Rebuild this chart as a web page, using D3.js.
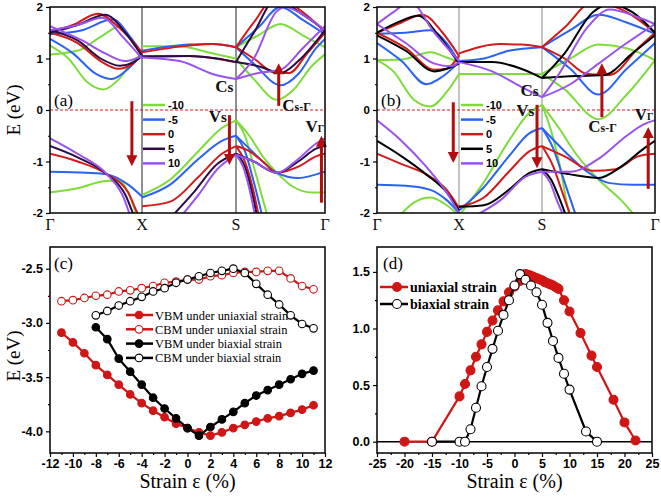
<!DOCTYPE html>
<html><head><meta charset="utf-8">
<script src="https://cdn.jsdelivr.net/npm/d3@7"></script>
<style>body{margin:0;background:#fff}svg{display:block}</style>
</head><body><svg id="c" width="661" height="497"></svg>
<script>
// ---------------- DATA ----------------
const strains = [-10, -5, 0, 5, 10];
const kLabels = ["Γ", "X", "S", "Γ"];
const kPos = [0, 1, 2, 3];
const bandTicks = [-2, -1, 0, 1, 2];

// Panel (a): uniaxial strain bands, [k, E]
const aM10 = [
  [[0,1.25],[0.2,1.0],[0.4,0.55],[0.58,0.4],[0.75,0.6],[0.9,0.95],[1,1.08]],
  [[0,1.08],[0.3,1.15],[0.55,1.42],[0.76,1.62],[0.9,1.3],[1,1.08]],
  [[1,1.24],[1.4,1.24],[1.7,1.12],[2,1.0]],
  [[2,1.0],[2.2,0.6],[2.46,0.2],[2.65,0.4],[2.85,0.85],[3,1.08]],
  [[2,1.22],[2.25,1.45],[2.5,1.67],[2.75,1.45],[3,1.22]],
  [[0,-1.6],[0.3,-1.52],[0.6,-1.38],[0.75,-1.37],[0.85,-1.6],[0.95,-2.1]],
  [[1,-1.65],[1.3,-1.35],[1.6,-0.8],[1.85,-0.35],[2,-0.2]],
  [[2,-0.2],[2.15,-0.5],[2.3,-0.9],[2.46,-1.22],[2.65,-1.5],[2.85,-1.6],[3,-1.6]],
  [[2,-0.2],[2.1,-0.5],[2.2,-1.1],[2.28,-1.6],[2.36,-2.1]]
];
const aM5 = [
  [[0,1.38],[0.25,1.1],[0.5,0.7],[0.67,0.6],[0.85,0.8],[1,1.08]],
  [[0,1.47],[0.35,1.55],[0.68,1.76],[0.88,1.4],[1,1.1]],
  [[1,1.15],[1.5,1.27],[1.75,1.28],[2,1.22]],
  [[2,1.22],[2.2,0.9],[2.5,0.48],[2.7,0.7],[2.9,1.2],[3,1.38]],
  [[2,1.22],[2.25,1.6],[2.5,2.0],[2.75,1.75],[3,1.47]],
  [[0,-1.2],[0.4,-1.22],[0.62,-1.25],[0.85,-1.45],[1,-1.68]],
  [[1,-1.7],[1.3,-1.45],[1.6,-0.95],[1.85,-0.6],[2,-0.5]],
  [[2,-0.5],[2.15,-0.75],[2.3,-1.0],[2.46,-1.22],[2.7,-1.32],[2.9,-1.25],[3,-1.2]],
  [[2,-0.5],[2.1,-0.8],[2.2,-1.4],[2.3,-2.1]]
];
const a0 = [
  [[0,1.5],[0.3,1.3],[0.55,0.95],[0.74,0.8],[0.9,0.9],[1,1.1]],
  [[0,1.52],[0.25,1.65],[0.52,1.87],[0.75,1.6],[1,1.12]],
  [[1,1.12],[1.5,1.25],[1.75,1.28],[2,1.22]],
  [[1,1.05],[1.5,1.05],[2,0.93]],
  [[2,1.22],[2.2,1.0],[2.45,0.72],[2.6,0.72],[2.8,1.1],[3,1.5]],
  [[2,1.22],[2.2,1.7],[2.45,2.2],[2.75,1.9],[3,1.52]],
  [[0,-0.85],[0.3,-1.0],[0.62,-1.25],[0.85,-1.6],[0.95,-2.0],[1,-2.15]],
  [[1,-1.87],[1.3,-1.78],[1.6,-1.3],[1.85,-0.85],[2,-0.7]],
  [[2,-0.7],[2.15,-0.8],[2.3,-1.0],[2.46,-1.22],[2.7,-1.1],[2.9,-0.9],[3,-0.85]],
  [[2,-0.7],[2.1,-1.0],[2.2,-1.6],[2.26,-2.1]]
];
const a5 = [
  [[0,1.55],[0.3,1.35],[0.55,1.0],[0.76,0.86],[0.9,0.92],[1,1.05]],
  [[0,1.5],[0.3,1.65],[0.6,1.85],[0.82,1.5],[1,1.05]],
  [[1,1.03],[1.5,1.05],[1.8,1.0],[2,0.93]],
  [[2,0.93],[2.25,0.85],[2.5,0.72],[2.7,0.95],[3,1.55]],
  [[2,0.93],[2.2,1.5],[2.45,2.15],[2.75,1.85],[3,1.55]],
  [[0,-0.7],[0.3,-0.92],[0.62,-1.25],[0.82,-1.65],[0.92,-2.1]],
  [[1.3,-2.1],[1.55,-1.6],[1.8,-1.05],[2,-0.85]],
  [[2,-0.85],[2.2,-1.0],[2.46,-1.22],[2.7,-1.0],[2.9,-0.75],[3,-0.7]],
  [[2,-0.85],[2.1,-1.1],[2.18,-1.6],[2.24,-2.1]]
];
const a10 = [
  [[0,1.63],[0.35,1.35],[0.6,1.1],[0.82,0.95],[1,1.05]],
  [[0,1.55],[0.3,1.65],[0.57,1.79],[0.8,1.4],[1,1.0]],
  [[1,1.02],[1.4,0.95],[1.75,0.7],[2,0.6]],
  [[2,0.6],[2.25,0.72],[2.5,0.78],[2.75,1.2],[3,1.63]],
  [[2,0.6],[2.2,1.0],[2.45,1.9],[2.55,2.0],[2.8,1.8],[3,1.55]],
  [[0,-0.55],[0.3,-0.85],[0.62,-1.25],[0.8,-1.7],[0.88,-2.1]],
  [[1.4,-2.1],[1.6,-1.65],[1.8,-1.15],[2,-0.87]],
  [[2,-0.87],[2.2,-1.0],[2.46,-1.22],[2.7,-0.95],[2.9,-0.65],[3,-0.55]],
  [[2,-0.87],[2.08,-1.1],[2.16,-1.6],[2.22,-2.1]]
];

// Panel (b): biaxial strain bands, [k, E]
const bM10 = [
  [[0,0.97],[0.3,0.98],[0.65,1.12],[0.85,1.02],[1,0.93]],
  [[0,0.97],[0.2,0.75],[0.45,0.2],[0.65,0.07],[0.85,0.35],[1,0.7]],
  [[1,0.7],[1.5,0.7],[2,0.7]],
  [[2,0.7],[2.2,0.4],[2.5,-0.18],[2.75,0.3],[3,0.97]],
  [[2,0.7],[2.25,1.0],[2.5,1.27],[2.75,1.2],[3,0.97]],
  [[0.25,-2.1],[0.45,-1.8],[0.65,-1.7],[0.85,-1.85],[1,-2.05]],
  [[1,-2.05],[1.3,-1.4],[1.6,-0.6],[1.85,-0.05],[2,0.1]],
  [[2,0.1],[2.08,-0.4],[2.16,-1.1],[2.24,-2.0],[2.26,-2.1]],
  [[2,0.1],[2.15,-0.35],[2.3,-0.85],[2.5,-1.35],[2.7,-1.75],[2.82,-2.05]]
];
const bM5 = [
  [[0,1.3],[0.3,0.95],[0.6,0.5],[0.8,0.65],[1,0.93]],
  [[0,1.48],[0.35,1.5],[0.65,1.55],[0.85,1.3],[1,0.93]],
  [[1,0.95],[1.3,1.0],[1.6,1.15],[2,1.22]],
  [[2,1.22],[2.25,0.8],[2.5,0.3],[2.75,0.8],[3,1.3]],
  [[2,1.22],[2.25,1.55],[2.5,1.85],[2.75,1.7],[3,1.48]],
  [[0,-1.45],[0.35,-1.47],[0.65,-1.55],[0.85,-1.75],[1,-2.0]],
  [[1,-1.95],[1.3,-1.5],[1.6,-0.9],[1.85,-0.45],[2,-0.35]],
  [[2,-0.35],[2.1,-0.75],[2.2,-1.4],[2.3,-2.05]],
  [[2,-0.35],[2.2,-0.8],[2.4,-1.2],[2.6,-1.42],[2.8,-1.45],[3,-1.45]]
];
const b0 = [
  [[0,1.5],[0.35,1.2],[0.7,0.78],[0.85,0.8],[1,1.05]],
  [[0,1.5],[0.3,1.7],[0.55,1.85],[0.8,1.5],[1,1.05]],
  [[1,1.1],[1.5,1.28],[1.75,1.27],[2,1.22]],
  [[2,1.22],[2.2,1.0],[2.4,0.7],[2.6,0.68],[2.85,1.2],[3,1.5]],
  [[2,1.22],[2.2,1.6],[2.45,2.1],[2.75,1.9],[3,1.5]],
  [[0,-0.85],[0.3,-1.05],[0.6,-1.25],[0.85,-1.55],[1,-1.9]],
  [[1,-1.88],[1.3,-1.7],[1.6,-1.2],[1.85,-0.8],[2,-0.7]],
  [[2,-0.7],[2.1,-1.1],[2.18,-1.6],[2.26,-2.1]],
  [[2,-0.7],[2.2,-0.9],[2.45,-1.18],[2.65,-1.15],[2.85,-0.9],[3,-0.85]]
];
const b5 = [
  [[0,1.45],[0.35,1.15],[0.7,0.75],[0.85,0.8],[1,0.9]],
  [[0,1.5],[0.25,1.7],[0.5,1.83],[0.75,1.45],[1,0.9]],
  [[1,0.93],[1.4,0.93],[1.75,0.8],[2,0.62]],
  [[2,0.62],[2.3,0.66],[2.55,0.68],[2.8,1.1],[3,1.45]],
  [[2,0.62],[2.2,1.1],[2.45,1.9],[2.6,2.05],[2.8,1.9],[3,1.5]],
  [[0,-0.6],[0.3,-0.9],[0.6,-1.25],[0.85,-1.6],[1,-1.95]],
  [[1,-1.88],[1.3,-1.85],[1.6,-1.55],[1.85,-1.22],[2,-1.15]],
  [[2,-1.15],[2.08,-1.35],[2.16,-1.75],[2.22,-2.1]],
  [[2,-1.15],[2.25,-1.25],[2.5,-1.32],[2.7,-1.1],[2.9,-0.75],[3,-0.6]]
];
const b10 = [
  [[0,1.67],[0.2,1.9],[0.4,2.1],[0.7,1.5],[1,0.95]],
  [[0,1.67],[0.35,1.3],[0.7,0.9],[0.9,0.85],[1,0.93]],
  [[1,0.93],[1.4,0.75],[1.75,0.45],[2,0.25]],
  [[2,0.25],[2.15,0.7],[2.4,1.6],[2.6,1.95],[2.85,1.8],[3,1.67]],
  [[2,0.25],[2.25,0.5],[2.5,0.9],[2.75,1.3],[3,1.67]],
  [[0,-0.2],[0.3,-0.6],[0.6,-1.1],[0.85,-1.6],[1,-2.0]],
  [[1.2,-2.05],[1.5,-1.75],[1.8,-1.3],[2,-1.2]],
  [[2,-1.2],[2.07,-1.4],[2.14,-1.8],[2.2,-2.1]],
  [[2,-1.2],[2.25,-1.2],[2.5,-0.95],[2.75,-0.5],[2.9,-0.28],[3,-0.2]]
];

// Arrows [k, E from, E to]
const arrowsA = [[0.89,0.17,-1.09],[1.93,-0.1,-1.07],[2.48,0.08,0.91],[2.96,-1.8,-0.5]];
const arrowsB = [[0.93,0.15,-1.03],[1.94,0.1,-1.13],[2.53,-0.14,0.91],[2.94,-1.53,-0.33]];

// Panel (c)
const strainC = d3.range(-11, 12);
const vbmUni = [-3.09,-3.18,-3.28,-3.39,-3.48,-3.57,-3.66,-3.74,-3.81,-3.87,-3.93,-3.97,-4.01,-4.04,-4.01,-3.97,-3.94,-3.91,-3.88,-3.86,-3.83,-3.80,-3.76];
const cbmUni = [-2.80,-2.79,-2.77,-2.75,-2.74,-2.71,-2.70,-2.68,-2.66,-2.63,-2.62,-2.60,-2.60,-2.57,-2.56,-2.54,-2.53,-2.53,-2.52,-2.52,-2.59,-2.66,-2.69];
const strainCb = d3.range(-8, 12);
const vbmBi = [-3.04,-3.15,-3.33,-3.45,-3.57,-3.69,-3.79,-3.88,-3.97,-4.04,-3.96,-3.89,-3.82,-3.74,-3.67,-3.62,-3.57,-3.52,-3.47,-3.44];
const cbmBi = [-2.93,-2.89,-2.84,-2.80,-2.76,-2.71,-2.68,-2.63,-2.60,-2.57,-2.54,-2.52,-2.50,-2.54,-2.64,-2.74,-2.83,-2.93,-3.01,-3.05];
const legendC = ["VBM under uniaxial strain","CBM under uniaxial strain","VBM under biaxial strain","CBM under biaxial strain"];

// Panel (d)
const strainDu = [-20,-15,-10,-9,-8,-7,-6,-5,-4,-3,-2,-1,0,1,1.5,2,2.5,3,3.5,4,4.5,5,5.5,6,6.5,7,7.5,8,9,10,12,14,15,18,20,22];
const gapUni   = [0,0,0.40,0.51,0.63,0.75,0.86,0.97,1.07,1.16,1.24,1.32,1.37,1.42,1.46,1.48,1.475,1.465,1.455,1.445,1.435,1.425,1.41,1.40,1.39,1.38,1.365,1.35,1.25,1.15,0.96,0.76,0.66,0.37,0.17,0.01];
const strainDb = [-15,-10,-9,-8,-7,-6,-5,-4,-3,-2,-1,0,1,2,3,4,5,6,7,8,9,10,13,15];
const gapBi    = [0,0,0,0.11,0.30,0.49,0.66,0.82,0.98,1.12,1.25,1.38,1.48,1.43,1.38,1.32,1.21,1.05,0.89,0.74,0.60,0.46,0.09,0];
const legendD = ["uniaxial strain","biaxial strain"];

// ---------------- STYLE ----------------
const colA = ["#7ddc3c","#2a62f2","#d21a1a","#2b0c44","#9a52ee"];
const colB = ["#7ddc3c","#2a62f2","#d21a1a","#000000","#9a52ee"];
const arrowCol = "#b30d0d";
const SANS = "'Liberation Sans', Arial, sans-serif";
const SERIF = "'Liberation Serif', 'Times New Roman', serif";

const svg = d3.select("#c");
svg.append("rect").attr("width",661).attr("height",497).attr("fill","#fff");

function frame(p){
  svg.append("rect").attr("x",p.l).attr("y",p.t).attr("width",p.r-p.l).attr("height",p.b-p.t)
    .attr("fill","none").attr("stroke","#000").attr("stroke-width",1.5);
}
function styleAxis(g, size){
  g.select(".domain").remove();
  g.selectAll("line").attr("stroke","#000").attr("stroke-width",1.2);
  g.selectAll("text").attr("font-family",SANS).attr("font-weight","bold").attr("font-size",size||11).attr("fill","#000");
}

// ---------------- BAND PANELS ----------------
function bandPanel(p, kRange, sets, cols, arrows, labels, tag, showTitle){
  const x = d3.scaleLinear().domain(kPos).range(kRange);
  const y = d3.scaleLinear().domain([-2,2]).range([p.b,p.t]);
  const id = "clip"+tag;
  svg.append("clipPath").attr("id",id).append("rect").attr("x",p.l).attr("y",p.t).attr("width",p.r-p.l).attr("height",p.b-p.t);
  const g = svg.append("g").attr("clip-path",`url(#${id})`);
  g.selectAll(".hs").data([1,2]).enter().append("line")
    .attr("x1",d=>x(d)).attr("x2",d=>x(d)).attr("y1",p.t).attr("y2",p.b)
    .attr("stroke", tag==="a" ? "#222" : "#888").attr("stroke-width",1);
  g.append("line").attr("x1",p.l).attr("x2",p.r).attr("y1",y(0)).attr("y2",y(0))
    .attr("stroke","#d02020").attr("stroke-width",1.1).attr("stroke-dasharray","3,2");
  const line = d3.line().x(d=>x(d[0])).y(d=>y(d[1])).curve(d3.curveMonotoneX);
  [0,1,2,3,4].forEach(i=>{
    g.selectAll(null).data(sets[i]).enter().append("path")
      .attr("d",line).attr("fill","none").attr("stroke",cols[i]).attr("stroke-width",2);
  });
  arrows.forEach(a=>{
    const x0=x(a[0]), y0=y(a[1]), y1=y(a[2]);
    const dir = y1>y0 ? 1 : -1;
    svg.append("line").attr("x1",x0).attr("x2",x0).attr("y1",y0).attr("y2",y1-dir*8)
      .attr("stroke",arrowCol).attr("stroke-width",3);
    svg.append("path").attr("d",`M${x0-5.5},${y1-dir*11}L${x0+5.5},${y1-dir*11}L${x0},${y1}Z`).attr("fill",arrowCol);
  });
  frame(p);
  const ya = svg.append("g").attr("transform",`translate(${p.l},0)`)
    .call(d3.axisLeft(y).tickValues(bandTicks).tickSize(4).tickPadding(3).tickFormat(d=>String(d)));
  styleAxis(ya, 11.5);
  const ym = svg.append("g").attr("transform",`translate(${p.l},0)`)
    .call(d3.axisLeft(y).tickValues([-1.5,-0.5,0.5,1.5]).tickSize(2).tickFormat(""));
  styleAxis(ym);
  svg.selectAll(null).data(kPos).enter().append("text")
    .attr("x",d=>x(d)).attr("y",p.b+17).attr("text-anchor","middle")
    .attr("font-family",SERIF).attr("font-size",16).attr("fill","#111").text((d,i)=>kLabels[i]);
  svg.append("text").attr("x",p.l+4).attr("y",y(0)-4).attr("font-family",SERIF).attr("font-size",17).text(`(${tag})`);
  const lx = x(1)+ (tag==="a"?1:2);
  strains.forEach((s,i)=>{
    const ly = y(0) - 5 + i*14.6;
    svg.append("line").attr("x1",lx).attr("x2",lx+22).attr("y1",ly).attr("y2",ly).attr("stroke",cols[i]).attr("stroke-width",2.5);
    svg.append("text").attr("x",lx+25).attr("y",ly+4).attr("font-family",SANS).attr("font-weight","bold").attr("font-size",11).text(String(s));
  });
  labels.forEach(L=>{
    const t = svg.append("text").attr("x",x(L.k)).attr("y",y(L.e)).attr("font-family",SERIF)
      .attr("font-weight","bold").attr("fill","#111");
    t.append("tspan").attr("font-size",17).text(L.big);
    t.append("tspan").attr("font-size",L.subSize).text(L.sub);
  });
  if(showTitle){
    svg.append("text").attr("transform",`translate(20,${(p.t+p.b)/2}) rotate(-90)`)
      .attr("text-anchor","middle").attr("font-family",SERIF).attr("font-size",19).text("E (eV)");
  }
}

bandPanel({l:50,r:325,t:7,b:213},[50,142,236,325],[aM10,aM5,a0,a5,a10],colA,arrowsA,
  [{k:1.78,e:0.35,big:"C",sub:"s",subSize:15},{k:2.52,e:-0.01,big:"C",sub:"s-Γ",subSize:12},
   {k:1.71,e:-0.24,big:"V",sub:"s",subSize:15},{k:2.78,e:-0.42,big:"V",sub:"Γ",subSize:10}],"a",true);
bandPanel({l:377,r:655,t:7,b:213},[377,459,542,655],[bM10,bM5,b0,b5,b10],colB,arrowsB,
  [{k:1.74,e:0.27,big:"C",sub:"s",subSize:15},{k:2.41,e:-0.42,big:"C",sub:"s-Γ",subSize:12},
   {k:1.69,e:-0.12,big:"V",sub:"s",subSize:15},{k:2.82,e:-0.2,big:"V",sub:"Γ",subSize:10}],"b",false);

// ---------------- PANEL C ----------------
(function(){
  const p = {l:50,r:325,t:247,b:453};
  const x = d3.scaleLinear().domain([-12,12]).range([p.l,p.r]);
  const y = d3.scaleLinear().domain([-4.2,-2.3]).range([p.b,p.t]);
  const series = [
    {xs:strainC, ys:vbmUni, col:"#d01515", fill:"#d01515"},
    {xs:strainC, ys:cbmUni, col:"#d01515", fill:"#fff"},
    {xs:strainCb, ys:vbmBi, col:"#000", fill:"#000"},
    {xs:strainCb, ys:cbmBi, col:"#000", fill:"#fff"}
  ];
  const line = d3.line().x(d=>x(d[0])).y(d=>y(d[1]));
  series.forEach(s=>{
    const pts = s.xs.map((v,i)=>[v,s.ys[i]]);
    svg.append("path").attr("d",line(pts)).attr("fill","none").attr("stroke",s.col).attr("stroke-width",2.2);
    svg.selectAll(null).data(pts).enter().append("circle").attr("cx",d=>x(d[0])).attr("cy",d=>y(d[1])).attr("r",3.8)
      .attr("fill",s.fill).attr("stroke",s.col).attr("stroke-width",1.1);
  });
  legendC.forEach((t,i)=>{
    const ly = 315 + i*14.3, s = series[i];
    svg.append("line").attr("x1",126).attr("x2",153).attr("y1",ly).attr("y2",ly).attr("stroke",s.col).attr("stroke-width",2.5);
    svg.append("circle").attr("cx",139).attr("cy",ly).attr("r",3.8).attr("fill",s.fill).attr("stroke",s.col).attr("stroke-width",1.1);
    svg.append("text").attr("x",155).attr("y",ly+4.5).attr("font-family",SERIF).attr("font-size",12.4).text(t);
  });
  frame(p);
  const xa = svg.append("g").attr("transform",`translate(0,${p.b})`)
    .call(d3.axisBottom(x).tickValues(d3.range(-12,13,2)).tickSize(4).tickPadding(2).tickFormat(d=>String(d)));
  styleAxis(xa, 12.5);
  const xm = svg.append("g").attr("transform",`translate(0,${p.b})`)
    .call(d3.axisBottom(x).tickValues(d3.range(-11,12,2)).tickSize(2).tickFormat(""));
  styleAxis(xm);
  const ya = svg.append("g").attr("transform",`translate(${p.l},0)`)
    .call(d3.axisLeft(y).tickValues([-4,-3.5,-3,-2.5]).tickSize(4).tickPadding(3).tickFormat(d=>d.toFixed(1)));
  styleAxis(ya, 12.5);
  const ym = svg.append("g").attr("transform",`translate(${p.l},0)`)
    .call(d3.axisLeft(y).tickValues([-3.75,-3.25,-2.75]).tickSize(2).tickFormat(""));
  styleAxis(ym);
  svg.append("text").attr("x",p.l+4).attr("y",p.t+22).attr("font-family",SERIF).attr("font-size",17).text("(c)");
  svg.append("text").attr("transform",`translate(20,${(p.t+p.b)/2+6}) rotate(-90)`)
    .attr("text-anchor","middle").attr("font-family",SERIF).attr("font-size",19).text("E (eV)");
  svg.append("text").attr("x",(p.l+p.r)/2).attr("y",488).attr("text-anchor","middle")
    .attr("font-family",SERIF).attr("font-size",20).text("Strain ε (%)");
})();

// ---------------- PANEL D ----------------
(function(){
  const p = {l:377,r:652,t:247,b:453};
  const x = d3.scaleLinear().domain([-25,25]).range([p.l,p.r]);
  const y = d3.scaleLinear().domain([-0.1,1.72]).range([p.b,p.t]);
  svg.append("line").attr("x1",p.l).attr("x2",p.r).attr("y1",y(0)).attr("y2",y(0)).attr("stroke","#000").attr("stroke-width",1.5);
  const series = [
    {xs:strainDu, ys:gapUni, col:"#d01515", fill:"#d01515"},
    {xs:strainDb, ys:gapBi, col:"#000", fill:"#fff"}
  ];
  const line = d3.line().x(d=>x(d[0])).y(d=>y(d[1]));
  series.forEach(s=>{
    const pts = s.xs.map((v,i)=>[v,s.ys[i]]);
    svg.append("path").attr("d",line(pts)).attr("fill","none").attr("stroke",s.col).attr("stroke-width",2.2);
    svg.selectAll(null).data(pts).enter().append("circle").attr("cx",d=>x(d[0])).attr("cy",d=>y(d[1])).attr("r",4.5)
      .attr("fill",s.fill).attr("stroke",s.col).attr("stroke-width",1.1);
  });
  legendD.forEach((t,i)=>{
    const ly = 287 + i*17, s = series[i];
    svg.append("line").attr("x1",380).attr("x2",408).attr("y1",ly).attr("y2",ly).attr("stroke",s.col).attr("stroke-width",2.5);
    svg.append("circle").attr("cx",397).attr("cy",ly).attr("r",4.5).attr("fill",s.fill).attr("stroke",s.col).attr("stroke-width",1.1);
    svg.append("text").attr("x",410).attr("y",ly+5).attr("font-family",SERIF).attr("font-weight","bold").attr("font-size",14).text(t);
  });
  frame(p);
  const xa = svg.append("g").attr("transform",`translate(0,${p.b})`)
    .call(d3.axisBottom(x).tickValues(d3.range(-25,26,5)).tickSize(4).tickPadding(2).tickFormat(d=>String(d)));
  styleAxis(xa, 12.5);
  const xm = svg.append("g").attr("transform",`translate(0,${p.b})`)
    .call(d3.axisBottom(x).tickValues(d3.range(-22.5,23,5)).tickSize(2).tickFormat(""));
  styleAxis(xm);
  const ya = svg.append("g").attr("transform",`translate(${p.l},0)`)
    .call(d3.axisLeft(y).tickValues([0,0.5,1,1.5]).tickSize(4).tickPadding(3).tickFormat(d=>d.toFixed(1)));
  styleAxis(ya, 12.5);
  const ym = svg.append("g").attr("transform",`translate(${p.l},0)`)
    .call(d3.axisLeft(y).tickValues([0.25,0.75,1.25]).tickSize(2).tickFormat(""));
  styleAxis(ym);
  svg.append("text").attr("x",p.l+6).attr("y",p.t+22).attr("font-family",SERIF).attr("font-size",17).text("(d)");
  svg.append("text").attr("x",(p.l+p.r)/2).attr("y",488).attr("text-anchor","middle")
    .attr("font-family",SERIF).attr("font-size",20).text("Strain ε (%)");
})();
</script>
</body></html>
